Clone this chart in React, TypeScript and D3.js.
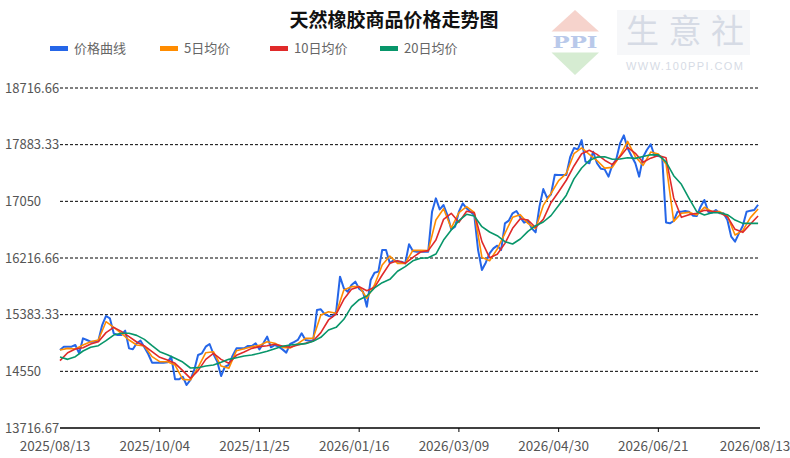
import React from "react";
import * as d3 from "d3";

const TITLE = "天然橡胶商品价格走势图";
const SERIES_NAMES = ["价格曲线", "5日均价", "10日均价", "20日均价"];
const SERIES_COLORS = ["#2566e8", "#ff8c00", "#e02a2a", "#08966a"];

const START_DATE = "2025/08/13";
const END_DATE = "2026/08/13";
const PRICE_STEP_DAYS = 2;
const MA_STEP_DAYS = 4;

const X_TICK_LABELS = [
  "2025/08/13", "2025/10/04", "2025/11/25", "2026/01/16",
  "2026/03/09", "2026/04/30", "2026/06/21", "2026/08/13",
];
const Y_TICK_VALUES = [13716.67, 14550, 15383.33, 16216.66, 17050, 17883.33, 18716.66];
const Y_TICK_LABELS = ["13716.67", "14550", "15383.33", "16216.66", "17050", "17883.33", "18716.66"];

const priceValues = [
  14864, 14913, 14913, 14913, 14937, 14815, 15035, 15011, 14986, 14986,
  15001, 15231, 15364, 15329, 15109, 15084, 15084, 15148, 14888, 14874,
  14962, 15001, 14903, 14805, 14677, 14677, 14677, 14677, 14682, 14766,
  14432, 14432, 14471, 14349, 14423, 14570, 14790, 14815, 14913, 14952,
  14805, 14692, 14481, 14619, 14643, 14780, 14888, 14888, 14888, 14923,
  14923, 14962, 14873, 14962, 15060, 14903, 14937, 14913, 14873, 14825,
  14952, 14981, 15011, 15109, 15011, 15001, 15001, 15452, 15462, 15393,
  15364, 15354, 15427, 15942, 15771, 15722, 15820, 15869, 15766, 15722,
  15501, 15893, 16001, 16016, 16334, 16334, 16138, 16187, 16163, 16163,
  16138, 16420, 16320, 16310, 16310, 16310, 16310, 16898, 17094, 16932,
  16996, 16849, 16638, 16677, 16898, 17021, 16947, 16898, 16849, 16334,
  16040, 16148, 16285, 16359, 16398, 16334, 16726, 16766, 16874, 16908,
  16815, 16736, 16766, 16653, 16594, 16972, 17230, 17100, 17150, 17440,
  17437, 17437, 17437, 17700, 17834, 17814, 17951, 17633, 17609, 17780,
  17610, 17530, 17520, 17413, 17584, 17663, 17900, 18020, 17829, 17717,
  17609, 17413, 17700, 17805, 17890, 17720, 17715, 17700, 16740, 16727,
  16761, 16898, 16898, 16908, 16898, 16839, 16834, 16972, 17070, 16898,
  16883, 16923, 16874, 16874, 16775, 16530, 16457, 16579, 16687, 16898,
  16913, 16923, 17000,
];

const ma5Values = [
  14864, 14888, 14878, 14937, 14986, 15011, 15280, 15197, 15109, 15011,
  14937, 14923, 14766, 14692, 14692, 14643, 14432, 14423, 14609, 14824,
  14839, 14628, 14594, 14854, 14883, 14913, 14932, 14986, 14962, 14903,
  14893, 14957, 15035, 15035, 15378, 15427, 15403, 15746, 15795, 15795,
  15624, 15820, 16114, 16246, 16138, 16138, 16330, 16329, 16325, 16776,
  16942, 16658, 16883, 16972, 16888, 16226, 16177, 16349, 16579, 16815,
  16854, 16726, 16650, 16990, 17165, 17355, 17460, 17750, 17835, 17740,
  17650, 17538, 17550, 17720, 17932, 17707, 17580, 17775, 17745, 17600,
  16756, 16874, 16888, 16849, 16962, 16898, 16898, 16834, 16555, 16619,
  16810, 16937,
];

const ma10Values = [
  14707, 14824, 14878, 14898, 14952, 14986, 15119, 15197, 15138, 15060,
  14981, 14923, 14839, 14756, 14717, 14668, 14560, 14447, 14560, 14726,
  14815, 14726, 14668, 14785, 14834, 14888, 14913, 14927, 14947, 14923,
  14903, 14937, 14962, 14996, 15119, 15305, 15393, 15609, 15756, 15795,
  15736, 15785, 15967, 16138, 16178, 16138, 16225, 16305, 16325, 16481,
  16785, 16874, 16741, 16903, 16883, 16457, 16221, 16271, 16432, 16653,
  16795, 16776, 16665, 16785, 17030, 17190, 17360, 17570, 17750, 17800,
  17741, 17655, 17590, 17705, 17844, 17756, 17625, 17685, 17725, 17690,
  17100, 16815, 16854, 16874, 16918, 16903, 16883, 16824, 16638, 16594,
  16717, 16834,
];

const ma20Values = [
  14760, 14726, 14766, 14849, 14903, 14927, 15001, 15084, 15109, 15109,
  15079, 15020, 14927, 14839, 14795, 14741, 14687, 14599, 14604, 14628,
  14643, 14682, 14726, 14751, 14776, 14790, 14815, 14844, 14883, 14918,
  14937, 14947, 14957, 14991, 15050, 15158, 15197, 15315, 15501, 15604,
  15658, 15776, 15854, 15903, 16021, 16090, 16175, 16212, 16221, 16275,
  16481, 16628, 16766, 16859, 16834, 16677, 16599, 16545, 16457, 16423,
  16496, 16609, 16692, 16746, 16840, 16990, 17140, 17380, 17540, 17650,
  17700, 17705, 17668, 17672, 17692, 17682, 17710, 17735, 17733, 17630,
  17427, 17300, 17094, 16898, 16849, 16883, 16883, 16854, 16775, 16726,
  16726, 16726,
];

const W = 790;
const H = 458;
const M = { left: 60, right: 760, top: 88, bottom: 428 };
const FONT = "'Noto Sans CJK SC', 'Noto Sans', sans-serif";

const parse = d3.timeParse("%Y/%m/%d");

export default function App() {
  const start = parse(START_DATE) as Date;
  const end = parse(END_DATE) as Date;
  const x = d3.scaleTime().domain([start, end]).range([M.left, M.right]);
  const y = d3
    .scaleLinear()
    .domain([Y_TICK_VALUES[0], Y_TICK_VALUES[Y_TICK_VALUES.length - 1]])
    .range([M.bottom, M.top]);

  const toPoints = (vals: number[], step: number) =>
    vals.map((v, i) => ({ d: d3.timeDay.offset(start, i * step), v }));

  const line = d3
    .line<{ d: Date; v: number }>()
    .x((p) => x(p.d))
    .y((p) => y(p.v));

  const series = [
    { pts: toPoints(priceValues, PRICE_STEP_DAYS), color: SERIES_COLORS[0], w: 2 },
    { pts: toPoints(ma5Values, MA_STEP_DAYS), color: SERIES_COLORS[1], w: 1.6 },
    { pts: toPoints(ma10Values, MA_STEP_DAYS), color: SERIES_COLORS[2], w: 1.6 },
    { pts: toPoints(ma20Values, MA_STEP_DAYS), color: SERIES_COLORS[3], w: 1.6 },
  ];

  const legendX = [50, 160, 270, 380];

  return (
    <svg
      width={W}
      height={H}
      style={{ position: "absolute", left: 0, top: 0, background: "#fff" }}
      fontFamily={FONT}
    >
      {/* watermark */}
      <g>
        <polygon points="551.5,31.5 575,10 599,31.5" fill="#f6d3cc" />
        <text x={552.5} y={48} fontSize={17} fontWeight="bold"
          fontFamily="'DejaVu Serif', serif" fill="#b9c9ea" textLength={45}
          lengthAdjust="spacingAndGlyphs">PPI</text>
        <polygon points="551.5,52.5 575,75 599,52.5" fill="#d6ecd2" />
        <rect x={617} y={10} width={133} height={45} fill="#f6f7f9" />
        <text x={626} y={43} fontSize={33} fill="#d6dbe5" textLength={118}
          lengthAdjust="spacing">生意社</text>
        <text x={626} y={70} fontSize={11} fill="#d6dbe5" textLength={117}
          lengthAdjust="spacing" fontFamily="'Liberation Sans', Arial, sans-serif">WWW.100PPI.COM</text>
      </g>

      {/* title */}
      <text x={394} y={27} textAnchor="middle" fontSize={19} fontWeight="bold" fill="#111">
        {TITLE}
      </text>

      {/* legend */}
      {SERIES_NAMES.map((n, i) => (
        <g key={n}>
          <rect x={legendX[i]} y={46} width={18} height={5} fill={SERIES_COLORS[i]} />
          <text x={legendX[i] + 24} y={53} fontSize={13} fill="#666">{n}</text>
        </g>
      ))}

      {/* grid */}
      {Y_TICK_VALUES.map((v, i) => (
        <g key={v}>
          {i > 0 && (
            <line x1={M.left} x2={M.right} y1={y(v)} y2={y(v)} stroke="#000" strokeWidth={1}
              strokeDasharray="3,2" />
          )}
          <text x={5} y={y(v)} dy="0.35em" textAnchor="start" fontSize={13} fill="#555">
            {Y_TICK_LABELS[i]}
          </text>
        </g>
      ))}

      {/* axis */}
      <line x1={M.left} x2={M.right} y1={M.bottom} y2={M.bottom} stroke="#000" strokeWidth={1.3} />
      {X_TICK_LABELS.map((t, i) => {
        const px = x(parse(t) as Date);
        const last = i === X_TICK_LABELS.length - 1;
        return (
          <g key={t}>
            {i > 0 && !last && (
              <line x1={px} x2={px} y1={M.bottom} y2={M.bottom + 4} stroke="#000" strokeWidth={1} />
            )}
            <text x={px - 5} y={451} textAnchor="middle" fontSize={13.5} fill="#555">
              {t}
            </text>
          </g>
        );
      })}

      {/* series */}
      {series.map((s, i) => (
        <path key={i} d={line(s.pts) || ""} fill="none" stroke={s.color} strokeWidth={s.w}
          strokeLinejoin="round" />
      ))}
    </svg>
  );
}
